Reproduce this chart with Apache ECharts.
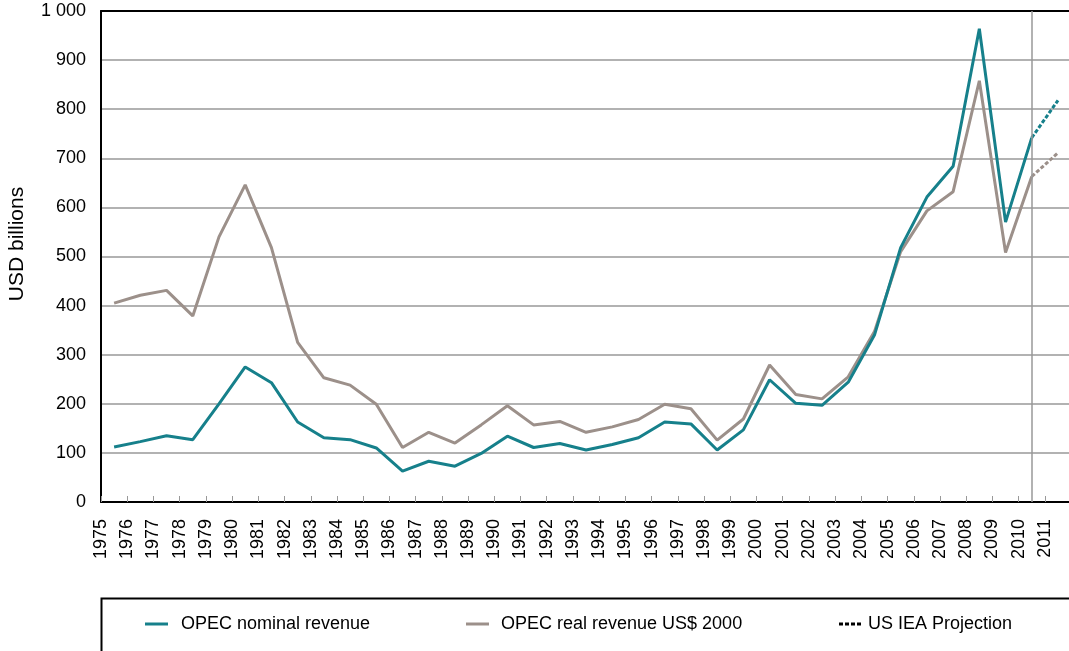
<!DOCTYPE html>
<html>
<head>
    <meta charset="utf-8">
    <title>OPEC revenue</title>
    <script src="https://cdn.jsdelivr.net/npm/echarts@6/dist/echarts.min.js"></script>
    <style>
        html, body { margin: 0; padding: 0; background: #fff; }
    </style>
</head>
<body>
    <div id="main" style="width: 1069px;height:651px;"></div>
    <script type="text/javascript">
        // years and revenue values (USD billions)
        var years = [1975, 1976, 1977, 1978, 1979, 1980, 1981, 1982, 1983, 1984, 1985, 1986,
                     1987, 1988, 1989, 1990, 1991, 1992, 1993, 1994, 1995, 1996, 1997, 1998,
                     1999, 2000, 2001, 2002, 2003, 2004, 2005, 2006, 2007, 2008, 2009, 2010];
        var nominal = [112, 123, 135, 127, 200, 275, 243, 163, 131, 127, 110, 63,
                       83, 73, 99, 134, 111, 119, 106, 117, 131, 163, 159, 106,
                       147, 249, 201, 197, 244, 340, 518, 621, 684, 964, 570, 742];
        var real = [405, 421, 431, 379, 540, 646, 518, 325, 253, 238, 199, 111,
                    142, 120, 157, 196, 157, 164, 142, 153, 168, 199, 190, 126,
                    169, 279, 219, 210, 255, 347, 510, 593, 632, 858, 508, 663];
        var projYears = [2010, 2011];
        var nominalProj = [742, 818];
        var realProj = [663, 711];

        var teal = '#16808b';
        var taupe = '#9c908a';
        var font = "'Liberation Sans', Arial, sans-serif";
        var dashIcon = 'path://M0,0h4v3h-4zM6,0h4v3h-4zM12,0h4v3h-4zM18,0h4v3h-4z';

        // points sit in the middle of each year slot
        function pairs(xs, ys) {
            return xs.map(function (x, i) { return [x + 0.5, ys[i]]; });
        }

        var myChart = echarts.init(document.getElementById('main'));

        var legendText = {fontSize: 18, color: '#000', fontFamily: font};

        var option = {
            animation: false,
            textStyle: {fontFamily: font},
            grid: {left: 101, top: 11, right: 0, bottom: 149, outerBoundsMode: 'none', containLabel: false},
            xAxis: [
                {
                    type: 'value', min: 1975, max: 2011.92, interval: 1,
                    axisLine: {lineStyle: {color: '#000', width: 2}},
                    axisTick: {inside: true, length: 6, lineStyle: {color: '#999', width: 1}},
                    splitLine: {show: false},
                    axisLabel: {
                        rotate: 90, fontSize: 18, color: '#000', margin: 17,
                        showMaxLabel: false, fontFamily: font,
                        formatter: function (v) { return String(v); }
                    }
                },
                {
                    type: 'value', position: 'top', min: 1975, max: 2011.92,
                    axisLine: {show: true, lineStyle: {color: '#000', width: 2}},
                    axisTick: {show: false}, axisLabel: {show: false}, splitLine: {show: false}
                }
            ],
            yAxis: {
                type: 'value', min: 0, max: 1000, interval: 100,
                name: 'USD billions', nameLocation: 'middle', nameGap: 73,
                nameTextStyle: {fontSize: 21, color: '#000', fontFamily: font, padding: [0, 0, 0, 25]},
                axisLine: {show: true, lineStyle: {color: '#000', width: 2}},
                axisTick: {show: false},
                splitLine: {lineStyle: {color: '#999', width: 1.5}},
                axisLabel: {
                    fontSize: 18, color: '#000', margin: 15, fontFamily: font,
                    formatter: function (v) { return v >= 1000 ? '1 000' : String(v); }
                }
            },
            legend: [
                {
                    data: ['OPEC nominal revenue'], left: 140, top: 610,
                    icon: 'rect', itemWidth: 23, itemHeight: 3,
                    textStyle: Object.assign({padding: [0, 0, 0, 8]}, legendText)
                },
                {
                    data: ['OPEC real revenue US$ 2000'], left: 461, top: 610,
                    icon: 'rect', itemWidth: 23, itemHeight: 3,
                    textStyle: Object.assign({padding: [0, 0, 0, 7]}, legendText)
                },
                {
                    data: ['US IEA Projection'], left: 834, top: 610,
                    icon: dashIcon, itemWidth: 22, itemHeight: 3,
                    textStyle: Object.assign({padding: [0, 0, 0, 2]}, legendText)
                }
            ],
            graphic: [
                {
                    type: 'rect', left: 99, top: 596,
                    shape: {width: 990, height: 70},
                    style: {fill: 'none', stroke: '#000', lineWidth: 2}
                }
            ],
            series: [
                {
                    name: 'OPEC real revenue US$ 2000', type: 'line', symbol: 'none',
                    data: pairs(years, real),
                    lineStyle: {color: taupe, width: 3}, itemStyle: {color: taupe},
                    markLine: {
                        silent: true, symbol: 'none', label: {show: false},
                        lineStyle: {color: '#999', width: 1.5, type: 'solid'},
                        data: [{xAxis: 2010.5}]
                    }
                },
                {
                    name: 'OPEC nominal revenue', type: 'line', symbol: 'none',
                    data: pairs(years, nominal),
                    lineStyle: {color: teal, width: 3}, itemStyle: {color: teal}
                },
                {
                    name: 'real proj', type: 'line', symbol: 'none',
                    data: pairs(projYears, realProj),
                    lineStyle: {color: taupe, width: 3, type: [4, 2]}
                },
                {
                    name: 'nominal proj', type: 'line', symbol: 'none',
                    data: pairs(projYears, nominalProj),
                    lineStyle: {color: teal, width: 3, type: [4, 2]}
                },
                {
                    name: 'US IEA Projection', type: 'line', symbol: 'none', data: [],
                    lineStyle: {color: '#000', width: 2, type: [3, 2]}, itemStyle: {color: '#000'}
                }
            ]
        };

        myChart.setOption(option);
    </script>
</body>
</html>
